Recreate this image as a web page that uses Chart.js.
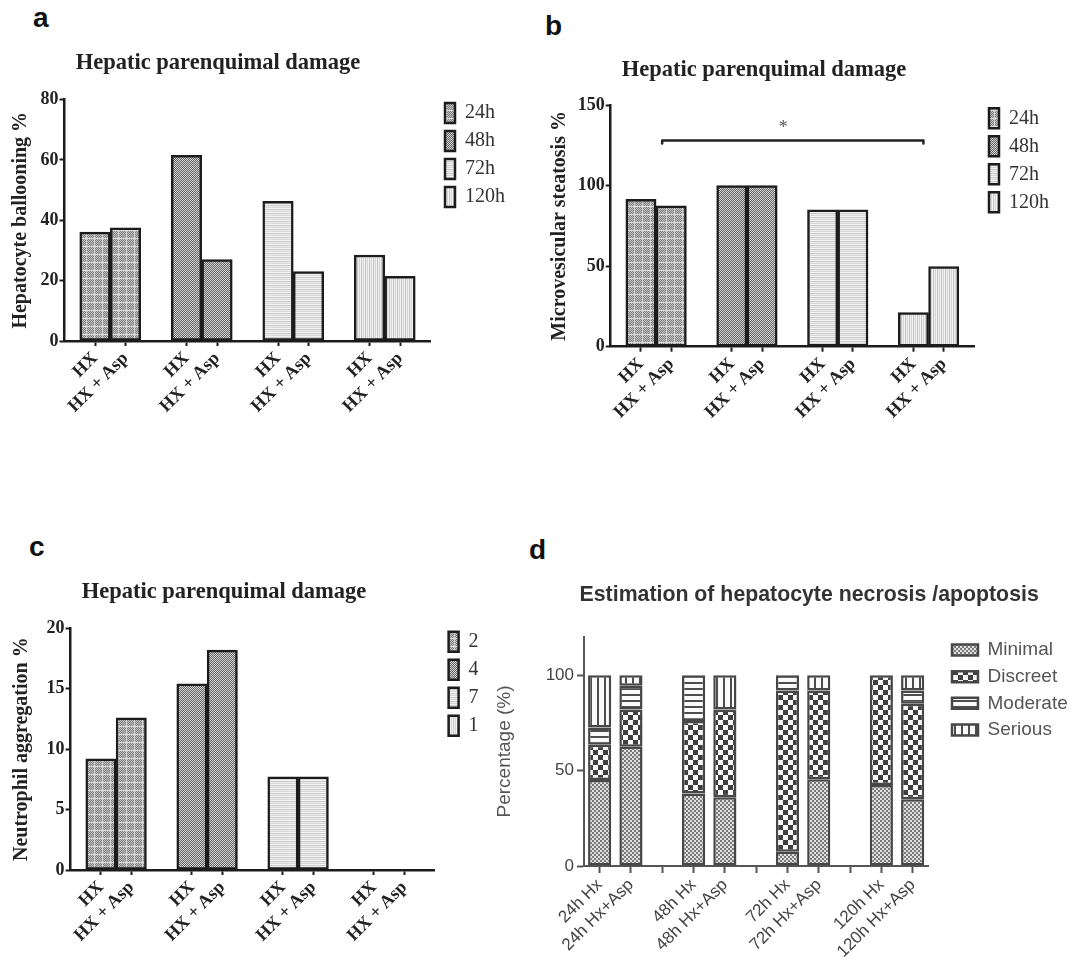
<!DOCTYPE html>
<html><head><meta charset="utf-8">
<script src="https://cdn.jsdelivr.net/npm/chart.js@4.4.1/dist/chart.umd.min.js"></script>
<style>
html,body{margin:0;padding:0;background:#fff;width:1078px;height:965px;overflow:hidden;position:relative}
canvas{position:absolute}
.lbl{position:absolute;font:bold 28px "Liberation Sans",Arial,sans-serif;line-height:28px;color:#111}
</style></head><body>
<div class="lbl" style="left:33px;top:4px">a</div>
<div class="lbl" style="left:545px;top:12px">b</div>
<div class="lbl" style="left:29px;top:533px">c</div>
<div class="lbl" style="left:529px;top:536px">d</div>
<canvas id="ca" width="540" height="440" style="left:0px;top:0px;width:540px;height:440px"></canvas>
<canvas id="cb" width="538" height="440" style="left:540px;top:0px;width:538px;height:440px"></canvas>
<canvas id="cc" width="478" height="525" style="left:0px;top:440px;width:478px;height:525px"></canvas>
<canvas id="cd" width="600" height="445" style="left:478px;top:520px;width:600px;height:445px"></canvas>
<script>
// ---------- data ----------
const timePoints = ['24h', '48h', '72h', '120h'];
const treatments = ['HX', 'HX + Asp'];
const panelTitle = 'Hepatic parenquimal damage';

const balloonHX  = [36.1, 61.5, 46.3, 28.5];
const balloonAsp = [37.5, 27.0, 23.0, 21.4];
const balloonTicks = [0, 20, 40, 60, 80];

const steatosisHX  = [91.5, 100, 84.9, 21.1];
const steatosisAsp = [87.5, 100, 84.9, 49.7];
const steatosisTicks = [0, 50, 100, 150];
const sigFrom = 0.7, sigTo = 9.33, sigLevel = 128, sigTextAt = 4.7, sigTextLevel = 135.7, sigText = '*';

const neutroHX  = [9.2, 15.4, 7.7, 0];
const neutroAsp = [12.6, 18.2, 7.7, 0];
const neutroTicks = [0, 5, 10, 15, 20];

const necrosisTitle = 'Estimation of hepatocyte necrosis /apoptosis';
const necrosisCats = ['24h Hx', '24h Hx+Asp', '48h Hx', '48h Hx+Asp', '72h Hx', '72h Hx+Asp', '120h Hx', '120h Hx+Asp'];
const severity = ['Minimal', 'Discreet', 'Moderate', 'Serious'];
const minimal  = [45, 62.5, 38, 36, 7.5, 45.5, 42.5, 35];
const discreet = [18.5, 19.5, 38, 46, 84.5, 46.5, 57.5, 50];
const moderate = [9, 12.5, 24, 0, 8, 0, 0, 7];
const serious  = [27.5, 5.5, 0, 18, 0, 8, 0, 8];
const necrosisTicks = [0, 50, 100];
const necrosisMax = 120;

// ---------- helpers ----------
const SERIF = '"Liberation Serif", "Times New Roman", serif';
const SANS = '"Liberation Sans", Arial, sans-serif';

function pattern(w, h, colorAt) {
  const c = document.createElement('canvas'); c.width = w; c.height = h;
  const g = c.getContext('2d');
  for (let y = 0; y < h; y++) for (let x = 0; x < w; x++) { g.fillStyle = colorAt(x, y); g.fillRect(x, y, 1, 1); }
  return g.createPattern(c, 'repeat');
}
const patAC = [
  pattern(8, 8, (x, y) => y === 6 ? '#dcdcdc' : (x === 6 ? '#cfcfcf' : ((x + y) % 2 ? '#7e7e7e' : '#c2c2c2'))),
  pattern(2, 2, (x, y) => ((x + y) % 2 ? '#666666' : '#d2d2d2')),
  pattern(1, 4, (x, y) => ['#f3f3f3', '#cbcbcb', '#ebebeb', '#d9d9d9'][y]),
  pattern(4, 1, (x, y) => ['#f3f3f3', '#c6c6c6', '#ececec', '#d6d6d6'][x])
];
const patD = [
  pattern(4, 4, (x, y) => ((Math.floor(x / 2) + Math.floor(y / 2)) % 2 ? '#7a7a7a' : '#e0e0e0')),
  pattern(10, 10, (x, y) => ((Math.floor(x / 5) + Math.floor(y / 5)) % 2 ? '#3f3f3f' : '#f8f8f8')),
  pattern(1, 6, (x, y) => (y < 2 ? '#4d4d4d' : '#fafafa')),
  pattern(7, 1, (x, y) => (x < 2 ? '#4d4d4d' : '#fafafa'))
];

// shifts the library's own legend / title boxes after layout (and widens the legend clip box)
const nudgePlugin = {
  id: 'nudge',
  afterLayout(chart, args, o) {
    const L = chart.legend, T = chart.titleBlock;
    if (L && o.legend) {
      const [dx, dy, extra] = o.legend;
      L.left += dx; L.right += dx + (extra || 0); L.width += (extra || 0); L.top += dy; L.bottom += dy;
    }
    if (T && o.title) { T.left += o.title[0]; T.right += o.title[0]; T.top += o.title[1]; T.bottom += o.title[1]; }
  }
};
const sigPlugin = {
  id: 'sig',
  afterDatasetsDraw(chart, args, o) {
    if (!o || o.from === undefined) return;
    const xs = chart.scales.x, ys = chart.scales.y, ctx = chart.ctx;
    const x1 = xs.getPixelForValue(o.from), x2 = xs.getPixelForValue(o.to), yy = ys.getPixelForValue(o.level);
    ctx.save();
    ctx.strokeStyle = '#222'; ctx.lineWidth = 2.5; ctx.lineCap = 'round'; ctx.lineJoin = 'round';
    ctx.beginPath(); ctx.moveTo(x1, yy + 3); ctx.lineTo(x1, yy); ctx.lineTo(x2, yy); ctx.lineTo(x2, yy + 3); ctx.stroke();
    ctx.fillStyle = '#555'; ctx.font = '18px ' + SERIF; ctx.textAlign = 'center'; ctx.textBaseline = 'middle';
    ctx.fillText(o.text, xs.getPixelForValue(o.textAt), ys.getPixelForValue(o.textLevel));
    ctx.restore();
  }
};

const barPositions = timePoints.flatMap((t, i) => [3 * i, 3 * i + 1]);
const barLabels = timePoints.flatMap(() => treatments);

function hxChart(id, yLabel, hx, asp, yTicks, geo, sig) {
  const datasets = timePoints.map((t, i) => ({
    label: t,
    data: [{ x: 3 * i, y: hx[i] }, { x: 3 * i + 1, y: asp[i] }],
    backgroundColor: patAC[i],
    borderColor: '#1c1c1c',
    borderWidth: 2.5,
    borderSkipped: false,
    grouped: false,
    barPercentage: 1,
    categoryPercentage: 1
  }));
  const axisCol = '#1c1c1c';
  return new Chart(document.getElementById(id), {
    type: 'bar',
    data: { datasets },
    options: {
      responsive: false, animation: false, devicePixelRatio: 1,
      layout: { padding: { left: 0, top: 0, right: geo.padR, bottom: 0 } },
      scales: {
        x: {
          type: 'linear', min: -1, max: 11, offset: false,
          afterBuildTicks: s => { s.ticks = barPositions.map(v => ({ value: v })); },
          afterFit: s => { s.height = geo.xH; },
          grid: { display: true, drawOnChartArea: false, drawTicks: true, tickLength: 5, tickWidth: 2, tickColor: axisCol, offset: false },
          border: { display: true, color: axisCol, width: 2.5 },
          ticks: { autoSkip: false, maxRotation: 45, minRotation: 45, padding: 2, color: '#222',
            font: { family: SERIF, size: 18, weight: 'bold' },
            callback: v => { const k = barPositions.indexOf(v); return k < 0 ? '' : barLabels[k]; } }
        },
        y: {
          min: yTicks[0], max: yTicks[yTicks.length - 1],
          afterBuildTicks: s => { s.ticks = yTicks.map(v => ({ value: v })); },
          afterFit: s => { s.width = geo.yW; },
          grid: { display: true, drawOnChartArea: false, drawTicks: true, tickLength: 5, tickWidth: 2, tickColor: axisCol },
          border: { display: true, color: axisCol, width: 2.5 },
          ticks: { padding: 1, color: '#222', font: { family: SERIF, size: 18, weight: 'bold' } },
          title: { display: true, text: yLabel, color: '#222', font: { family: SERIF, size: 20, weight: 'bold' }, padding: { top: geo.yTitlePad, bottom: 0 } }
        }
      },
      plugins: {
        legend: { position: 'right', align: 'start', fullSize: false, maxWidth: geo.legendW,
          labels: { boxWidth: 10, boxHeight: 20, padding: 8, color: '#333', font: { family: SERIF, size: 20 } } },
        title: { display: true, text: panelTitle, color: '#222', font: { family: SERIF, size: 22.5, weight: 'bold' }, padding: { top: geo.tT, bottom: geo.tB } },
        tooltip: { enabled: false },
        nudge: { legend: geo.legNudge, title: geo.titleNudge },
        sig: sig || {}
      }
    },
    plugins: [nudgePlugin, sigPlugin]
  });
}

hxChart('ca', 'Hepatocyte ballooning %', balloonHX, balloonAsp, balloonTicks,
  { padR: 59.5, xH: 99, yW: 64.5, yTitlePad: 9, legendW: 50, tT: 49.5, tB: 23.0, titleNudge: [-22.25, 0], legNudge: [6.5, -4.5, 80] });

hxChart('cb', 'Microvesicular steatosis %', steatosisHX, steatosisAsp, steatosisTicks,
  { padR: 54, xH: 93.3, yW: 70.7, yTitlePad: 8, legendW: 50, tT: 56.5, tB: 21.5, titleNudge: [-18, 0], legNudge: [7, -4.7, 80] },
  { from: sigFrom, to: sigTo, level: sigLevel, textAt: sigTextAt, textLevel: sigTextLevel, text: sigText });

hxChart('cc', 'Neutrophil aggregation %', neutroHX, neutroAsp, neutroTicks,
  { padR: 0, xH: 95, yW: 70.6, yTitlePad: 10, legendW: 43.4, tT: 138.2, tB: 23.1, titleNudge: [-15, 0], legNudge: [6, -4.6, 80] });

// panel d
const dLabels = [];
necrosisCats.forEach((c, i) => { dLabels.push(c); if (i % 2 === 1 && i < necrosisCats.length - 1) dLabels.push(''); });
function withGaps(arr) { const out = []; arr.forEach((v, i) => { out.push(v); if (i % 2 === 1 && i < arr.length - 1) out.push(null); }); return out; }
const dSeries = [minimal, discreet, moderate, serious];
const dAxis = '#555';
new Chart(document.getElementById('cd'), {
  type: 'bar',
  data: {
    labels: dLabels,
    datasets: severity.map((s, k) => ({
      label: s, data: withGaps(dSeries[k]), backgroundColor: patD[k], borderColor: '#474747', borderWidth: 2.5,
      borderSkipped: false, barPercentage: 0.74, categoryPercentage: 1
    }))
  },
  options: {
    responsive: false, animation: false, devicePixelRatio: 1,
    layout: { padding: { left: 0, top: 0, right: 49.7, bottom: 0 } },
    scales: {
      x: {
        stacked: true, offset: true,
        afterFit: s => { s.height = 99; },
        grid: { display: true, offset: false, drawOnChartArea: false, drawTicks: true, tickLength: 7, tickWidth: 2, tickColor: dAxis },
        border: { display: true, color: dAxis, width: 2 },
        ticks: { autoSkip: false, maxRotation: 45, minRotation: 45, padding: 2, color: '#444', font: { family: SANS, size: 17 } }
      },
      y: {
        stacked: true, min: 0, max: necrosisMax,
        afterBuildTicks: s => { s.ticks = necrosisTicks.map(v => ({ value: v })); },
        afterFit: s => { s.width = 106; },
        grid: { display: true, drawOnChartArea: false, drawTicks: true, tickLength: 7, tickWidth: 2, tickColor: dAxis },
        border: { display: true, color: dAxis, width: 2 },
        ticks: { padding: 3, color: '#444', font: { family: SANS, size: 17 } },
        title: { display: true, text: 'Percentage (%)', color: '#555', font: { family: SANS, size: 19 }, padding: { top: 15.6, bottom: 0 } }
      }
    },
    plugins: {
      legend: { position: 'right', align: 'start', fullSize: false, maxWidth: 100,
        labels: { boxWidth: 26, boxHeight: 11, padding: 7.7, color: '#555', font: { family: SANS, size: 19 } } },
      title: { display: true, text: necrosisTitle, color: '#333', font: { family: SANS, size: 21.3, weight: 'bold' }, padding: { top: 62.2, bottom: 29.2 } },
      tooltip: { enabled: false },
      nudge: { legend: [16, -4.2, 120], title: [56, 0] }
    }
  },
  plugins: [nudgePlugin]
});
</script>
</body></html>
